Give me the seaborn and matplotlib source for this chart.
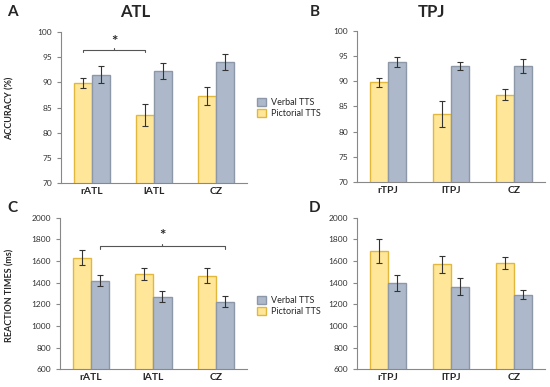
import pandas as pd
import seaborn as sns
import matplotlib.pyplot as plt
from matplotlib.patches import Patch

# data
atl_regions = ["rATL", "lATL", "CZ"]
tpj_regions = ["rTPJ", "lTPJ", "CZ"]
conditions = ["Pictorial TTS", "Verbal TTS"]

acc_atl_pict = [89.8, 83.6, 87.3]
acc_atl_pict_err = [1.0, 2.2, 1.7]
acc_atl_verb = [91.5, 92.3, 94.0]
acc_atl_verb_err = [1.7, 1.65, 1.6]

acc_tpj_pict = [89.8, 83.5, 87.3]
acc_tpj_pict_err = [0.9, 2.6, 1.1]
acc_tpj_verb = [93.8, 93.0, 93.0]
acc_tpj_verb_err = [1.0, 0.8, 1.35]

rt_atl_pict = [1630, 1480, 1465]
rt_atl_pict_err = [70, 52, 68]
rt_atl_verb = [1418, 1272, 1225]
rt_atl_verb_err = [50, 52, 50]

rt_tpj_pict = [1690, 1572, 1582]
rt_tpj_pict_err = [112, 78, 52]
rt_tpj_verb = [1395, 1365, 1288]
rt_tpj_verb_err = [75, 75, 42]

pict_fill, pict_edge = "#FFE699", "#E2B83C"
verb_fill, verb_edge = "#ADB9CA", "#8C98A8"

sns.set_style("white")
plt.rcParams["font.family"] = ["Lato", "DejaVu Sans"]

fig = plt.figure(figsize=(5.5, 3.87), dpi=100)


def panel(rect, regions, pict, pict_err, verb, verb_err, ylim, step):
    ax = fig.add_axes(rect)
    df = pd.DataFrame({
        "region": regions * 2,
        "cond": [conditions[0]] * 3 + [conditions[1]] * 3,
        "value": pict + verb,
    })
    sns.barplot(data=df, x="region", y="value", hue="cond", order=regions,
                hue_order=conditions, palette=[pict_fill, verb_fill], saturation=1,
                width=0.58, errorbar=None, legend=False, ax=ax)
    edges = [pict_edge] * 3 + [verb_edge] * 3
    errs = pict_err + verb_err
    vals = pict + verb
    centers = []
    for p, ec in zip(ax.patches[:6], edges):
        p.set_edgecolor(ec)
        p.set_linewidth(1.0)
        centers.append(p.get_x() + p.get_width() / 2)
    ax.errorbar(centers, vals, yerr=errs, fmt="none", ecolor="#333333",
                elinewidth=0.8, capsize=2, capthick=0.8)
    ax.set_ylim(*ylim)
    ax.set_xlim(-0.5, 2.5)
    ax.set_yticks(range(ylim[0], ylim[1] + 1, step))
    ax.set_xticks([-0.5, 0.5, 1.5, 2.5], minor=True)
    ax.tick_params(axis="x", which="major", length=0, labelsize=7.5, pad=3)
    ax.tick_params(axis="x", which="minor", length=3, color="#888888", direction="out")
    ax.tick_params(axis="y", length=3, color="#888888", labelsize=6,
                   labelcolor="#333333", direction="out", left=True)
    for lab in ax.get_xticklabels():
        lab.set_fontweight("bold")
    for s in ["top", "right"]:
        ax.spines[s].set_visible(False)
    for s in ["left", "bottom"]:
        ax.spines[s].set_color("#888888")
        ax.spines[s].set_linewidth(0.8)
    ax.set_xlabel("")
    ax.set_ylabel("")
    return ax, centers


def bracket(ax, x0, x1, y, drop, rise):
    ax.plot([x0, x0, x1, x1], [y - drop, y, y, y - drop], color="#555555", lw=0.8)
    xm = (x0 + x1) / 2
    ax.plot([xm, xm], [y, y + drop * 0.6], color="#555555", lw=0.8)
    ax.text(xm, y + rise, "*", ha="center", va="center", fontsize=11, fontweight="bold")


axA, cA = panel([0.111, 0.527, 0.338, 0.390], atl_regions,
                acc_atl_pict, acc_atl_pict_err, acc_atl_verb, acc_atl_verb_err, (70, 100), 5)
axB, cB = panel([0.649, 0.530, 0.342, 0.390], tpj_regions,
                acc_tpj_pict, acc_tpj_pict_err, acc_tpj_verb, acc_tpj_verb_err, (70, 100), 5)
axC, cC = panel([0.109, 0.046, 0.340, 0.391], atl_regions,
                rt_atl_pict, rt_atl_pict_err, rt_atl_verb, rt_atl_verb_err, (600, 2000), 200)
axD, cD = panel([0.649, 0.046, 0.342, 0.391], tpj_regions,
                rt_tpj_pict, rt_tpj_pict_err, rt_tpj_verb, rt_tpj_verb_err, (600, 2000), 200)

bracket(axA, cA[0], cA[1], 96.5, 0.5, 1.6)
bracket(axC, cC[3], cC[5], 1740, 30, 95)

fig.text(135 / 550, 1 - 12 / 387, "ATL", ha="center", va="center", fontsize=12, fontweight="bold")
fig.text(432 / 550, 1 - 12 / 387, "TPJ", ha="center", va="center", fontsize=12, fontweight="bold")
for letter, x, y in [("A", 12, 12), ("B", 315, 12), ("C", 12, 208), ("D", 315, 208)]:
    fig.text(x / 550, 1 - y / 387, letter, ha="center", va="center", fontsize=11, fontweight="bold")

fig.text(10 / 550, 1 - 108 / 387, "ACCURACY (%)", rotation=90, ha="center", va="center",
         fontsize=6.5, fontweight="bold")
fig.text(10 / 550, 1 - 295 / 387, "REACTION TIMES (ms)", rotation=90, ha="center", va="center",
         fontsize=6.5, fontweight="bold")

handles = [Patch(facecolor=verb_fill, edgecolor=verb_edge, label="Verbal TTS"),
           Patch(facecolor=pict_fill, edgecolor=pict_edge, label="Pictorial TTS")]
for yc in [108, 306]:
    fig.legend(handles=handles, loc="center left", bbox_to_anchor=(253 / 550, 1 - yc / 387),
               frameon=False, fontsize=6.5, handlelength=1.0, handleheight=1.0,
               handletextpad=0.6, labelspacing=0.3, borderaxespad=0)

fig.savefig("out.png", dpi=100)
